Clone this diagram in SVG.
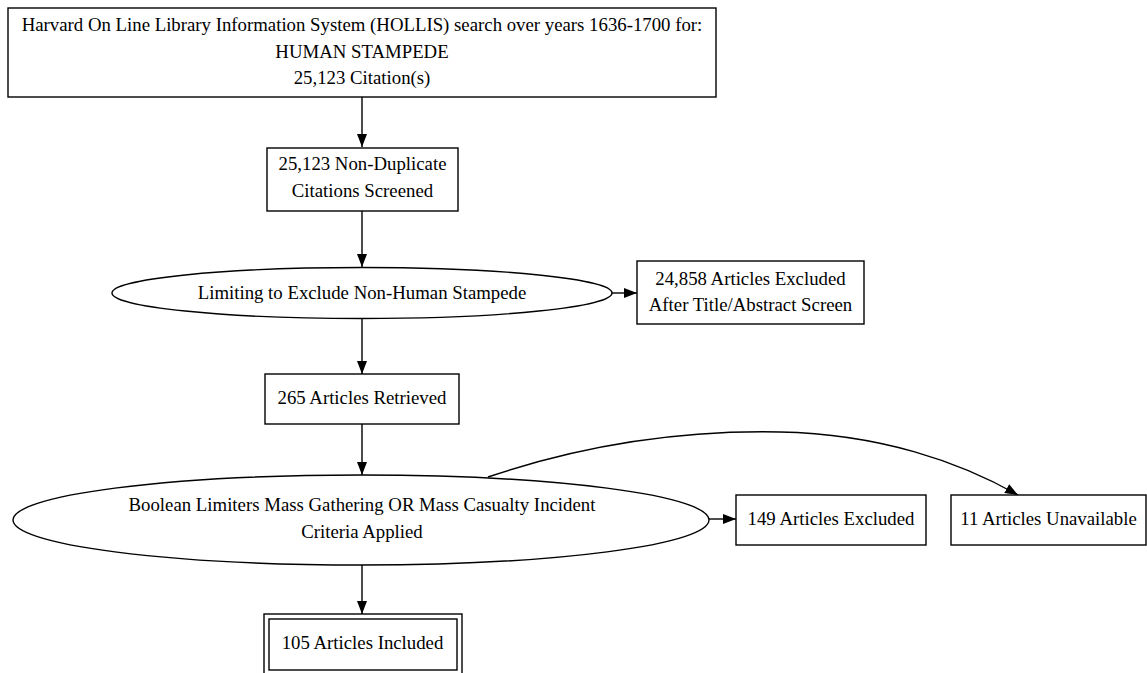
<svg xmlns="http://www.w3.org/2000/svg" width="1147" height="673" viewBox="0 0 1147 673">
<defs>
<style>
.n{fill:#fff;stroke:#000;stroke-width:1.4}
.t{font-family:"Liberation Serif","Times New Roman",serif;font-size:18.8px;fill:#000;text-anchor:middle}
.e{fill:none;stroke:#000;stroke-width:1.4;marker-end:url(#ah)}
</style>
<marker id="ah" viewBox="0 0 13 10" refX="13" refY="5" markerWidth="13" markerHeight="10" orient="auto" markerUnits="userSpaceOnUse"><path d="M0,0 L13,5 L0,10 z" fill="#000"/></marker>
</defs>
<rect width="1147" height="673" fill="#fff"/>
<g id="edges">
<path class="e" d="M362,97 L362,147"/>
<path class="e" d="M362,211 L362,267"/>
<path class="e" d="M362,318 L362,374"/>
<path class="e" d="M612,293 L637,293"/>
<path class="e" d="M362,424 L362,475"/>
<path class="e" d="M709,519 L736,519"/>
<path class="e" d="M488,477 C580,446 680,430 780,432 C880,434 960,462 1018,495"/>
<path class="e" d="M362,565 L362,614"/>
</g>
<g id="hollis">
<rect class="n" x="8" y="8" width="708" height="89"/>
<text class="t" x="362" y="31">Harvard On Line Library Information System (HOLLIS) search over years 1636-1700 for:</text>
<text class="t" x="362" y="58">HUMAN STAMPEDE</text>
<text class="t" x="362" y="84">25,123 Citation(s)</text>
</g>
<g id="screened">
<rect class="n" x="267" y="148" width="191" height="63"/>
<text class="t" x="362.5" y="170">25,123 Non-Duplicate</text>
<text class="t" x="362.5" y="197">Citations Screened</text>
</g>
<g id="limiting">
<ellipse class="n" cx="362" cy="293" rx="250" ry="25.5"/>
<text class="t" x="362" y="299">Limiting to Exclude Non-Human Stampede</text>
</g>
<g id="excluded1">
<rect class="n" x="637" y="261" width="227" height="63"/>
<text class="t" x="750.5" y="285">24,858 Articles Excluded</text>
<text class="t" x="750.5" y="311">After Title/Abstract Screen</text>
</g>
<g id="retrieved">
<rect class="n" x="265" y="374" width="194" height="50"/>
<text class="t" x="362" y="404">265 Articles Retrieved</text>
</g>
<g id="boolean">
<ellipse class="n" cx="361" cy="520" rx="348" ry="45"/>
<text class="t" x="362" y="511">Boolean Limiters Mass Gathering OR Mass Casualty Incident</text>
<text class="t" x="362" y="538">Criteria Applied</text>
</g>
<g id="excluded2">
<rect class="n" x="736" y="495" width="190" height="50"/>
<text class="t" x="831" y="525">149 Articles Excluded</text>
</g>
<g id="unavailable">
<rect class="n" x="951" y="495" width="195" height="50"/>
<text class="t" x="1048.5" y="525">11 Articles Unavailable</text>
</g>
<g id="included">
<rect class="n" x="264" y="614" width="198" height="62"/>
<rect class="n" x="269" y="619" width="188" height="51"/>
<text class="t" x="362.5" y="649">105 Articles Included</text>
</g>
</svg>
